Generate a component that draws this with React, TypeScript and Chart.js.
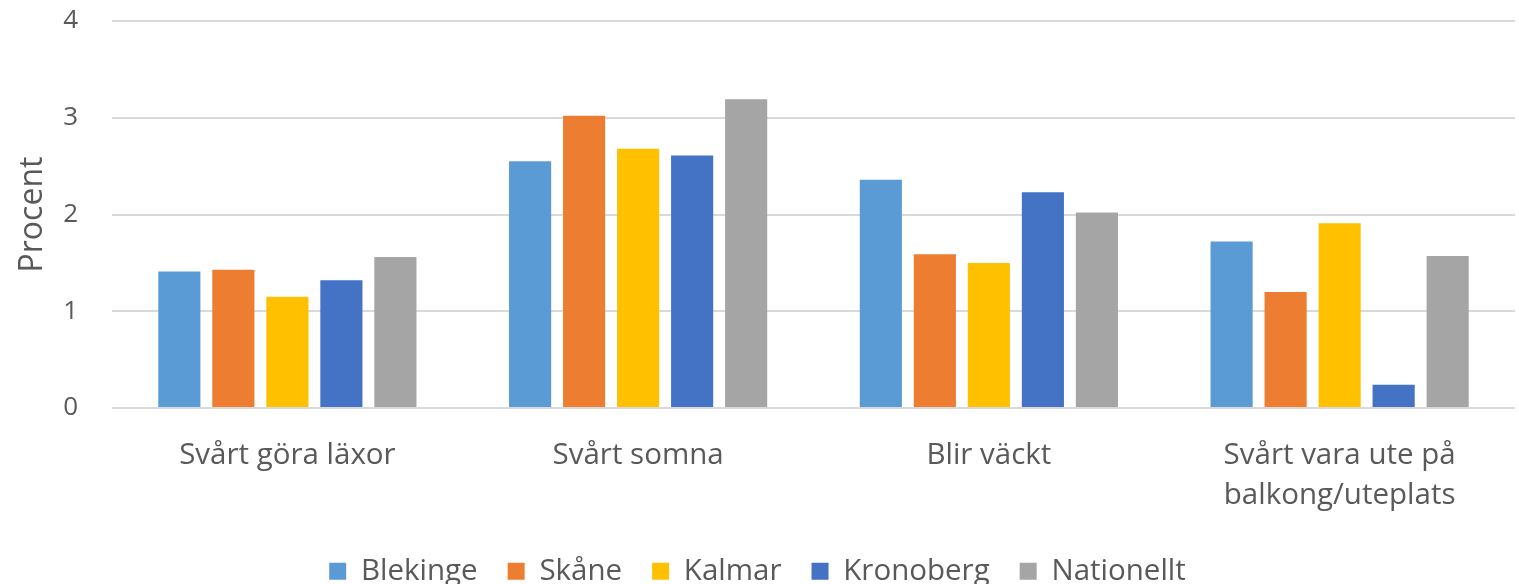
import React, { useEffect, useRef } from "react";
import { Chart, registerables } from "chart.js";

Chart.register(...registerables);

const categories: (string | string[])[] = [
  "Svårt göra läxor",
  "Svårt somna",
  "Blir väckt",
  ["Svårt vara ute på", "balkong/uteplats"],
];
const blekinge = [1.41, 2.55, 2.36, 1.72];
const skane = [1.43, 3.02, 1.59, 1.2];
const kalmar = [1.15, 2.68, 1.5, 1.91];
const kronoberg = [1.32, 2.61, 2.23, 0.24];
const nationellt = [1.56, 3.19, 2.02, 1.57];
const yTicks = [0, 1, 2, 3, 4];

const FONT = "'Open Sans', sans-serif";
const TEXT = "#595959";

export default function App() {
  const ref = useRef<HTMLCanvasElement | null>(null);
  useEffect(() => {
    if (!ref.current) return;
    const chart = new Chart(ref.current, {
      type: "bar",
      data: {
        labels: categories,
        datasets: [
          { label: "Blekinge", data: blekinge, backgroundColor: "#5B9BD5" },
          { label: "Skåne", data: skane, backgroundColor: "#ED7D31" },
          { label: "Kalmar", data: kalmar, backgroundColor: "#FFC000" },
          { label: "Kronoberg", data: kronoberg, backgroundColor: "#4472C4" },
          { label: "Nationellt", data: nationellt, backgroundColor: "#A5A5A5" },
        ],
      },
      options: {
        animation: false,
        responsive: false,
        maintainAspectRatio: false,
        datasets: { bar: { categoryPercentage: 0.77, barPercentage: 0.78 } },
        layout: { padding: { left: 0, right: 4, top: 21, bottom: -12 } },
        plugins: {
          tooltip: { enabled: false },
          legend: {
            position: "bottom",
            labels: {
              boxWidth: 17,
              boxHeight: 17,
              padding: 30,
              color: TEXT,
              font: { family: FONT, size: 29.5 },
            },
          },
        },
        scales: {
          x: {
            afterFit: (s: any) => {
              s.height = 118.5;
              s.paddingTop = 0;
              s.paddingBottom = 0;
            },
            grid: { display: false, drawTicks: false },
            border: { display: false },
            ticks: {
              color: TEXT,
              padding: 27,
              maxRotation: 0,
              autoSkip: false,
              font: { family: FONT, size: 29.5, lineHeight: 1.37 },
            },
          },
          y: {
            min: 0,
            max: 4,
            afterFit: (s: any) => {
              s.width = 112;
              s.paddingTop = 0;
              s.paddingBottom = 0;
            },
            afterBuildTicks: (s: any) => {
              s.ticks = yTicks.map((v) => ({ value: v }));
            },
            grid: { color: "#D9D9D9", lineWidth: 2, drawTicks: false },
            border: { display: false },
            ticks: {
              color: TEXT,
              padding: 34,
              font: { family: FONT, size: 26 },
            },
            title: {
              display: true,
              text: "Procent",
              color: TEXT,
              padding: { top: 14, bottom: 0 },
              font: { family: FONT, size: 32 },
            },
          },
        },
      },
    });
    return () => chart.destroy();
  }, []);
  return (
    <div style={{ position: "absolute", left: 0, top: 0, width: 1519, height: 584, background: "#fff" }}>
      <canvas ref={ref} width={1519} height={584} />
    </div>
  );
}
